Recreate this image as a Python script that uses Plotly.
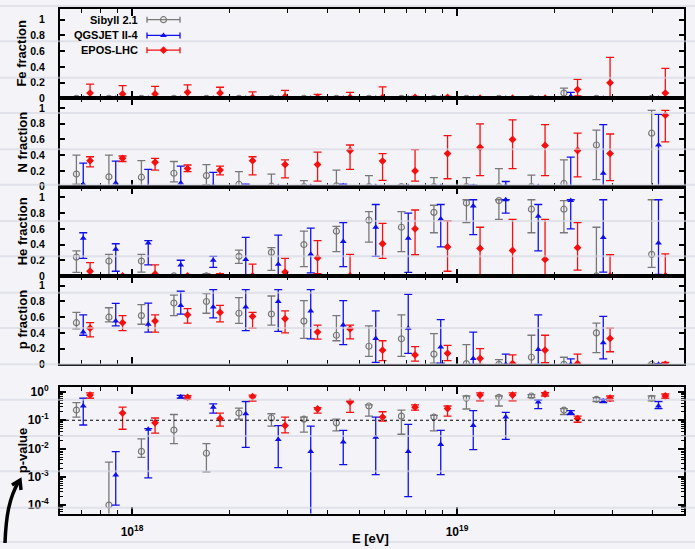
import plotly.graph_objects as go
import numpy as np

# ---------------- data ----------------
logE_bins = [17.85, 17.95, 18.05, 18.15, 18.25, 18.35, 18.45, 18.55, 18.65,
             18.75, 18.85, 18.95, 19.05, 19.15, 19.25, 19.35, 19.45, 19.62]

models = ["Sibyll 2.1", "QGSJET II-4", "EPOS-LHC"]

# Fe fraction (value, lower bound, upper bound)
fe_sib = [0, 0, 0, 0, 0, 0, 0, 0, 0, 0, 0, 0, 0, 0, 0, 0.066, 0, 0]
fe_sib_lo = [0] * 18
fe_sib_hi = [0.01, 0.01, 0.01, 0.01, 0.01, 0.01, 0.01, 0.01, 0.01, 0.01, 0.01, 0.01, 0.01, 0.01, 0.01, 0.13, 0.01, 0.01]
fe_qgs = [0, 0, 0, 0, 0, 0, 0, 0, 0, 0, 0, 0, 0, 0, 0, 0.025, 0, 0]
fe_qgs_lo = [0] * 18
fe_qgs_hi = [0.01, 0.01, 0.01, 0.01, 0.01, 0.01, 0.01, 0.01, 0.01, 0.01, 0.01, 0.01, 0.01, 0.01, 0.01, 0.075, 0.01, 0.01]
fe_epos = [0.066, 0.055, 0.055, 0.075, 0.066, 0.01, 0.02, 0.01, 0.01, 0.01, 0.01, 0.01, 0, 0, 0, 0.11, 0.196, 0.066]
fe_epos_lo = [0, 0, 0, 0, 0, 0, 0, 0, 0, 0, 0, 0, 0, 0, 0, 0.03, 0.01, 0]
fe_epos_hi = [0.18, 0.16, 0.15, 0.17, 0.14, 0.08, 0.1, 0.05, 0.075, 0.145, 0.025, 0.025, 0.005, 0.01, 0.01, 0.24, 0.52, 0.38]

# N fraction
n_sib = [0.16, 0.125, 0.12, 0.17, 0.14, 0.03, 0.005, 0.0, 0.01, 0.0, 0.0, 0.0, 0.0, 0.0, 0.0, 0.04, 0.53, 0.68]
n_sib_lo = [0.03, 0.01, 0, 0.06, 0.025, 0, 0, 0, 0, 0, 0, 0, 0, 0, 0, 0, 0.09, 0]
n_sib_hi = [0.40, 0.40, 0.33, 0.32, 0.28, 0.19, 0.16, 0.075, 0.21, 0.14, 0.02, 0.115, 0.115, 0.23, 0.145, 0.34, 0.72, 0.97]
n_qgs = [0.03, 0.045, 0.0, 0.045, 0.01, 0.005, 0, 0, 0.01, 0, 0, 0, 0.0, 0.01, 0, 0.0, 0.17, 0.53]
n_qgs_lo = [0, 0, 0, 0.01, 0, 0, 0, 0, 0, 0, 0, 0, 0, 0, 0, 0, 0, 0]
n_qgs_hi = [0.30, 0.325, 0.22, 0.26, 0.18, 0.03, 0.01, 0.01, 0.03, 0.01, 0.01, 0.01, 0.02, 0.065, 0.01, 0.375, 0.79, 0.92]
n_epos = [0.33, 0.36, 0.31, 0.23, 0.21, 0.33, 0.28, 0.28, 0.46, 0.325, 0.2, 0.42, 0.5, 0.6, 0.525, 0.46, 0.42, 0.91]
n_epos_lo = [0.25, 0.32, 0.21, 0.19, 0.15, 0.15, 0.11, 0.07, 0.22, 0.08, 0.07, 0.1, 0.14, 0.23, 0.14, 0.125, 0.075, 0.57]
n_epos_hi = [0.38, 0.39, 0.36, 0.275, 0.26, 0.38, 0.34, 0.44, 0.53, 0.42, 0.47, 0.65, 0.8, 0.85, 0.79, 0.68, 0.67, 0.97]

# He fraction
he_sib = [0.24, 0.19, 0.19, 0.0, 0.0, 0.25, 0.3, 0.4, 0.57, 0.71, 0.62, 0.81, 0.93, 0.96, 0.85, 0.85, 0.0, 0.275]
he_sib_lo = [0.046, 0.0, 0.05, 0, 0, 0.16, 0.07, 0.12, 0.31, 0.43, 0.31, 0.55, 0.68, 0.72, 0.55, 0.55, 0, 0.11]
he_sib_hi = [0.32, 0.275, 0.275, 0.01, 0.03, 0.33, 0.36, 0.57, 0.63, 0.82, 0.82, 0.9, 0.97, 0.97, 0.97, 0.96, 0.62, 0.97]
he_qgs = [0.48, 0.34, 0.42, 0.14, 0.2, 0.21, 0.15, 0.275, 0.44, 0.62, 0.48, 0.725, 0.89, 0.97, 0.76, 0.96, 0.49, 0.42]
he_qgs_lo = [0.225, 0.06, 0.14, 0.01, 0.11, 0, 0, 0.04, 0.12, 0.25, 0.046, 0.37, 0.525, 0.8, 0.32, 0.6, 0.05, 0.02]
he_qgs_hi = [0.55, 0.41, 0.45, 0.2, 0.25, 0.49, 0.52, 0.61, 0.68, 0.91, 0.8, 0.91, 0.97, 0.97, 0.91, 0.97, 0.97, 0.97]
he_epos = [0.06, 0.0, 0.025, 0.0, 0.0, 0.0, 0.05, 0.23, 0.0, 0.41, 0.6, 0.37, 0.35, 0.325, 0.21, 0.36, 0.0, 0.0]
he_epos_lo = [0, 0, 0, 0, 0, 0, 0, 0.03, 0, 0.225, 0.27, 0.06, 0, 0, 0, 0.075, 0, 0]
he_epos_hi = [0.17, 0.01, 0.14, 0.01, 0.03, 0.15, 0.225, 0.45, 0.275, 0.67, 0.84, 0.7, 0.62, 0.72, 0.72, 0.68, 0.27, 0.28]

# p fraction
p_sib = [0.53, 0.6, 0.62, 0.78, 0.8, 0.65, 0.64, 0.55, 0.37, 0.23, 0.325, 0.13, 0.01, 0.0, 0.09, 0.0, 0.4, 0.0]
p_sib_lo = [0.45, 0.54, 0.51, 0.62, 0.65, 0.52, 0.5, 0.33, 0.3, 0.1, 0.1, 0.016, 0, 0, 0, 0, 0.15, 0]
p_sib_hi = [0.66, 0.72, 0.76, 0.88, 0.9, 0.85, 0.87, 0.81, 0.62, 0.49, 0.63, 0.39, 0.25, 0.06, 0.37, 0.09, 0.525, 0.01]
p_qgs = [0.41, 0.55, 0.51, 0.75, 0.73, 0.73, 0.8, 0.68, 0.5, 0.33, 0.46, 0.22, 0.075, 0.0, 0.19, 0.0, 0.275, 0.0]
p_qgs_lo = [0.37, 0.49, 0.41, 0.64, 0.59, 0.43, 0.42, 0.325, 0.25, 0.025, 0.14, 0.016, 0, 0, 0, 0, 0.07, 0]
p_qgs_hi = [0.63, 0.775, 0.78, 0.93, 0.95, 0.95, 0.95, 0.95, 0.81, 0.68, 0.89, 0.57, 0.41, 0.13, 0.63, 0.07, 0.61, 0.01]
p_epos = [0.46, 0.53, 0.55, 0.63, 0.66, 0.61, 0.58, 0.41, 0.45, 0.18, 0.12, 0.14, 0.075, 0.01, 0.18, 0.01, 0.33, 0.0]
p_epos_lo = [0.35, 0.43, 0.41, 0.525, 0.54, 0.46, 0.4, 0.32, 0.325, 0.046, 0.04, 0.046, 0, 0, 0.02, 0, 0.16, 0]
p_epos_hi = [0.53, 0.62, 0.63, 0.71, 0.75, 0.66, 0.68, 0.5, 0.5, 0.3, 0.225, 0.24, 0.2, 0.12, 0.37, 0.13, 0.46, 0.025]

# p-values
pv_sib = [0.23, 1.0e-4, 7.9e-3, 0.045, 6.8e-3, 0.18, 0.12, 0.11, 0.081, 0.32, 0.14, 0.13, 0.6, 0.65, 0.72, 0.23, 0.55, 0.6]
pv_sib_lo = [0.13, 1e-5, 4.9e-3, 0.015, 1.5e-3, 0.11, 0.062, 0.038, 0.042, 0.14, 0.032, 0.042, 0.25, 0.32, 0.63, 0.16, 0.46, 0.49]
pv_sib_hi = [0.42, 3.3e-3, 0.022, 0.16, 0.015, 0.27, 0.17, 0.13, 0.11, 0.35, 0.23, 0.15, 0.72, 0.72, 0.81, 0.26, 0.63, 0.72]
pv_qgs = [0.32, 1.15e-3, 0.048, 0.68, 0.29, 0.17, 0.021, 7.8e-3, 0.017, 0.025, 7.8e-3, 0.014, 0.065, 0.13, 0.44, 0.19, 0.48, 0.32]
pv_qgs_lo = [0.068, 1.0e-4, 9.1e-4, 0.6, 0.18, 0.011, 2.1e-3, 1e-5, 2.7e-3, 1.2e-3, 2.0e-4, 1.2e-3, 9.1e-3, 0.021, 0.26, 0.16, 0.42, 0.26]
pv_qgs_hi = [0.6, 7.8e-3, 0.051, 0.76, 0.38, 0.46, 0.065, 0.062, 0.044, 0.13, 0.071, 0.044, 0.22, 0.19, 0.52, 0.22, 0.55, 0.46]
pv_epos = [0.78, 0.18, 0.081, 0.65, 0.115, 0.68, 0.065, 0.25, 0.44, 0.13, 0.29, 0.26, 0.78, 0.78, 0.85, 0.115, 0.6, 0.72]
pv_epos_lo = [0.6, 0.048, 0.035, 0.55, 0.062, 0.48, 0.036, 0.18, 0.19, 0.093, 0.23, 0.14, 0.49, 0.49, 0.72, 0.085, 0.49, 0.6]
pv_epos_hi = [0.93, 0.29, 0.12, 0.74, 0.18, 0.78, 0.13, 0.28, 0.48, 0.2, 0.35, 0.32, 0.93, 0.93, 0.95, 0.14, 0.72, 0.85]

panel_titles = ["Fe fraction", "N fraction", "He fraction", "p fraction", "p-value"]
frac_ticks = [0, 0.2, 0.4, 0.6, 0.8, 1]
frac_ticktext = ["0", "0.2", "0.4", "0.6", "0.8", "1"]
pv_tickvals = [1, 0.1, 0.01, 0.001, 0.0001]
pv_ticktext = ["10<sup>0</sup>", "10<sup>-1</sup>", "10<sup>-2</sup>", "10<sup>-3</sup>", "10<sup>-4</sup>"]
x_tickvals = [1e18, 1e19]
x_ticktext = ["10<sup>18</sup>", "10<sup>19</sup>"]
x_title = "E [eV]"

# ---------------- style ----------------
W, H = 695, 549
FONT = "Liberation Sans"
colors = {"sib": "rgb(120,120,120)", "qgs": "rgb(15,15,235)", "epos": "rgb(245,15,15)"}
markers = {"sib": dict(symbol="circle-open", size=6, line=dict(width=1.2)),
           "qgs": dict(symbol="triangle-up", size=6, line=dict(width=0)),
           "epos": dict(symbol="diamond", size=6, line=dict(width=0))}
shift = {"sib": -0.021, "qgs": 0.0, "epos": 0.021}

def px_x(p):
    return p / W

def px_y(p):
    return 1 - p / H

# panel pixel extents (top, bottom)
panels_px = [(5, 96), (96, 186), (186, 277), (277, 367), (390, 519)]
x_left, x_right = 60, 684
xrange_log = [17.7785, 19.6985]

data = [
    {"sib": (fe_sib, fe_sib_lo, fe_sib_hi), "qgs": (fe_qgs, fe_qgs_lo, fe_qgs_hi), "epos": (fe_epos, fe_epos_lo, fe_epos_hi)},
    {"sib": (n_sib, n_sib_lo, n_sib_hi), "qgs": (n_qgs, n_qgs_lo, n_qgs_hi), "epos": (n_epos, n_epos_lo, n_epos_hi)},
    {"sib": (he_sib, he_sib_lo, he_sib_hi), "qgs": (he_qgs, he_qgs_lo, he_qgs_hi), "epos": (he_epos, he_epos_lo, he_epos_hi)},
    {"sib": (p_sib, p_sib_lo, p_sib_hi), "qgs": (p_qgs, p_qgs_lo, p_qgs_hi), "epos": (p_epos, p_epos_lo, p_epos_hi)},
    {"sib": (pv_sib, pv_sib_lo, pv_sib_hi), "qgs": (pv_qgs, pv_qgs_lo, pv_qgs_hi), "epos": (pv_epos, pv_epos_lo, pv_epos_hi)},
]

fig = go.Figure()
logE = np.array(logE_bins)
for k, pdata in enumerate(data):
    xa = "x" if k == 0 else f"x{k+1}"
    ya = "y" if k == 0 else f"y{k+1}"
    for key in ["sib", "qgs", "epos"]:
        v, lo, hi = (np.array(a, dtype=float) for a in pdata[key])
        xs = 10.0 ** (logE + shift[key])
        fig.add_trace(go.Scatter(
            x=xs, y=v, xaxis=xa, yaxis=ya, mode="markers",
            marker=dict(color=colors[key], **markers[key]),
            error_y=dict(type="data", symmetric=False, array=hi - v, arrayminus=v - lo,
                         color=colors[key], thickness=1.3, width=4),
            showlegend=False, hoverinfo="skip"))

axis_common = dict(showline=True, linewidth=2, linecolor="black", mirror="allticks",
                   ticks="inside", tickcolor="black", showgrid=False, zeroline=False)
minor_x = [float(m) * 10.0 ** e for e in (17, 18, 19) for m in range(2, 10)]
layout = dict(width=W, height=H, margin=dict(l=0, r=0, t=0, b=0),
              paper_bgcolor="rgb(244,244,248)", plot_bgcolor="rgba(0,0,0,0)",
              font=dict(family=FONT, size=12, color="black", weight="bold"),
              showlegend=False)
for k, (top, bot) in enumerate(panels_px):
    xn = "xaxis" if k == 0 else f"xaxis{k+1}"
    yn = "yaxis" if k == 0 else f"yaxis{k+1}"
    ya = "y" if k == 0 else f"y{k+1}"
    xa = "x" if k == 0 else f"x{k+1}"
    layout[xn] = dict(axis_common, type="log", range=xrange_log, domain=[px_x(x_left), px_x(x_right)],
                      anchor=ya, tickvals=x_tickvals, ticktext=x_ticktext, ticklen=7, tickwidth=1.5,
                      showticklabels=(k == 4), tickfont=dict(size=12, family=FONT, weight="bold"),
                      ticklabelstandoff=6,
                      minor=dict(tickvals=minor_x, ticks="inside", ticklen=4, tickcolor="black", tickwidth=1))
    if k < 4:
        layout[yn] = dict(axis_common, range=[0, (bot - top) / 80.0], domain=[px_y(bot), px_y(top)],
                          anchor=xa, tickvals=frac_ticks, ticktext=frac_ticktext, ticklen=5, tickwidth=1.5,
                          tickfont=dict(size=10.5, family=FONT, weight="bold"), ticklabelstandoff=11)
    else:
        layout[yn] = dict(axis_common, type="log", range=[-4.30, 0.18], domain=[px_y(bot), px_y(top)],
                          anchor=xa, tickvals=pv_tickvals, ticktext=pv_ticktext, ticklen=6, tickwidth=1.5,
                          tickfont=dict(size=12, family=FONT, weight="bold"), ticklabelstandoff=7,
                          minor=dict(ticks="inside", ticklen=3, tickcolor="black", tickwidth=1, dtick="D1"))

# overlay pixel axes for decorations / legend
layout["xaxis6"] = dict(domain=[0, 1], range=[0, W], visible=False, anchor="y6", fixedrange=True)
layout["yaxis6"] = dict(domain=[0, 1], range=[H, 0], visible=False, anchor="x6", fixedrange=True)
fig.update_layout(**layout)

# legend items (drawn in pixel overlay)
leg_y = [16, 32, 47]
for key, name, yy in zip(["sib", "qgs", "epos"], models, leg_y):
    fig.add_trace(go.Scatter(x=[163.5], y=[yy], xaxis="x6", yaxis="y6", mode="markers",
                             marker=dict(color=colors[key], **markers[key]),
                             error_x=dict(type="constant", value=16.5, color=colors[key], thickness=1.3, width=3),
                             showlegend=False, hoverinfo="skip"))
    fig.add_annotation(x=140, y=yy, xref="x6", yref="y6", text=name, showarrow=False,
                       xanchor="right", yanchor="middle", font=dict(size=11, family=FONT, weight="bold"))

# background notebook lines
shapes = []
for ly in [2, 38, 75, 111, 148, 184, 221, 257, 294, 330, 367, 403, 440, 476, 513, 548]:
    shapes.append(dict(type="line", xref="x6", yref="y6", x0=0, x1=W, y0=ly, y1=ly,
                       line=dict(color="rgba(210,212,224,0.6)", width=2), layer="below"))
# dotted p = 0.1 reference line
shapes.append(dict(type="line", xref="x5 domain", yref="y5", x0=0, x1=1, y0=0.1, y1=0.1,
                   line=dict(color="black", width=1.2, dash="dot")))
# hand-drawn arrow
shapes.append(dict(type="path", xref="x6", yref="y6", path="M 5,549 C 6,522 9,503 19,486",
                   line=dict(color="black", width=3.5)))
shapes.append(dict(type="path", xref="x6", yref="y6", path="M 12,490 L 20,485 L 21,495",
                   line=dict(color="black", width=3.5)))
fig.update_layout(shapes=shapes)

# axis titles
for k, (top, bot) in enumerate(panels_px):
    fig.add_annotation(x=22, y=(top + bot) / 2, xref="x6", yref="y6", text=panel_titles[k],
                       showarrow=False, textangle=-90, font=dict(size=13, family=FONT, weight="bold"))
fig.add_annotation(x=370, y=544, xref="x6", yref="y6", text=x_title, showarrow=False,
                   font=dict(size=13, family=FONT, weight="bold"))

fig.write_html("out.html")
